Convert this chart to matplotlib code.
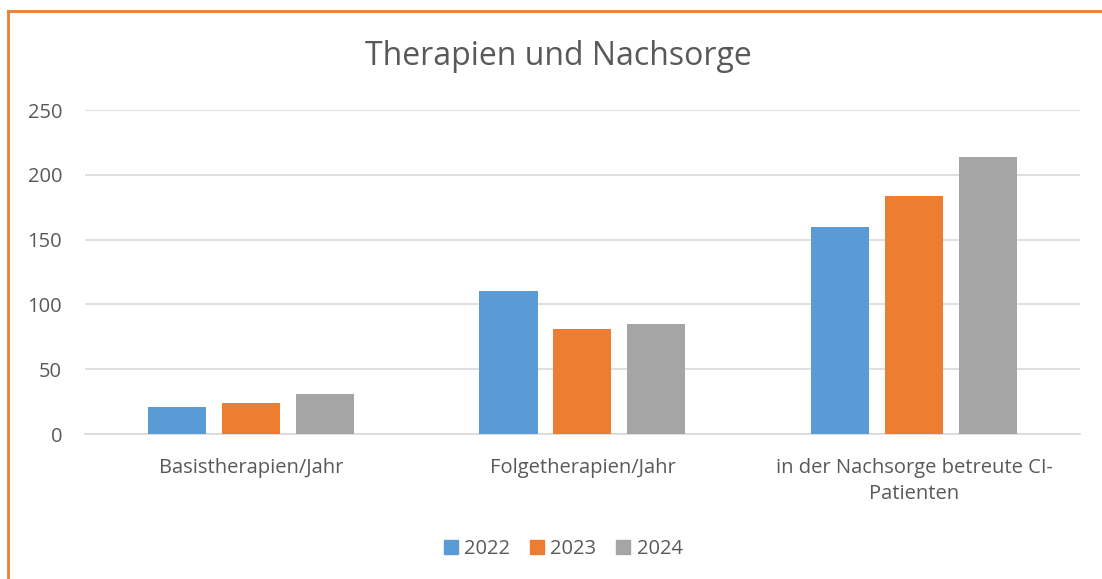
import numpy as np
import matplotlib
matplotlib.use("Agg")
import matplotlib.pyplot as plt
from matplotlib.lines import Line2D

# chart data
categories = ["Basistherapien/Jahr", "Folgetherapien/Jahr",
              "in der Nachsorge betreute CI-\nPatienten"]
years = ["2022", "2023", "2024"]
values_2022 = [21, 110, 160]
values_2023 = [24, 81, 184]
values_2024 = [31, 85, 214]
colors = ["#5B9BD5", "#ED7D31", "#A5A5A5"]

plt.rcParams['font.family'] = ['Open Sans', 'DejaVu Sans']
text_color = "#595959"

fig = plt.figure(figsize=(11.02, 5.79), dpi=100)
ax = fig.add_axes([0.0771, 0.2504, 0.9029, 0.5596])

x = np.arange(len(categories))
bar_w = 0.175
step = 0.223
series = [values_2022, values_2023, values_2024]
for i, (vals, col) in enumerate(zip(series, colors)):
    ax.bar(x + (i - 1) * step, vals, width=bar_w, color=col, label=years[i], zorder=3)

ax.set_xlim(-0.5, 2.5)
ax.set_ylim(0, 250)
ax.set_yticks(range(0, 251, 50))
ax.grid(axis='y', color="#D9D9D9", linewidth=1.2, zorder=0)
for s in ['top', 'right', 'left']:
    ax.spines[s].set_visible(False)
ax.spines['bottom'].set_color("#D9D9D9")
ax.spines['bottom'].set_linewidth(1.2)
ax.tick_params(axis='both', length=0, colors=text_color)
ax.tick_params(axis='y', pad=16.5, labelsize=14.5)
ax.tick_params(axis='x', pad=17)
ax.set_xticks(x)
ax.set_xticklabels(categories, fontsize=14.5, linespacing=1.45)

fig.text(0.507, 0.887, "Therapien und Nachsorge", ha='center', va='baseline',
         fontsize=23, color=text_color)

handles = [Line2D([0], [0], marker='s', linestyle='none', markersize=10,
                  markerfacecolor=c, markeredgecolor=c) for c in colors]
fig.legend(handles, years, loc='center', bbox_to_anchor=(0.511, 0.052), ncol=3,
           frameon=False, fontsize=14.5, handlelength=0.7, handletextpad=0.3,
           columnspacing=1.0, labelcolor=text_color)

# orange chart border (left and top edges visible)
fig.add_artist(Line2D([0.0073, 0.0073], [0, 0.981], transform=fig.transFigure,
                      color="#ED7D31", linewidth=2))
fig.add_artist(Line2D([0.0073, 1.0], [0.981, 0.981], transform=fig.transFigure,
                      color="#ED7D31", linewidth=2))

fig.savefig("out.png", dpi=100)
